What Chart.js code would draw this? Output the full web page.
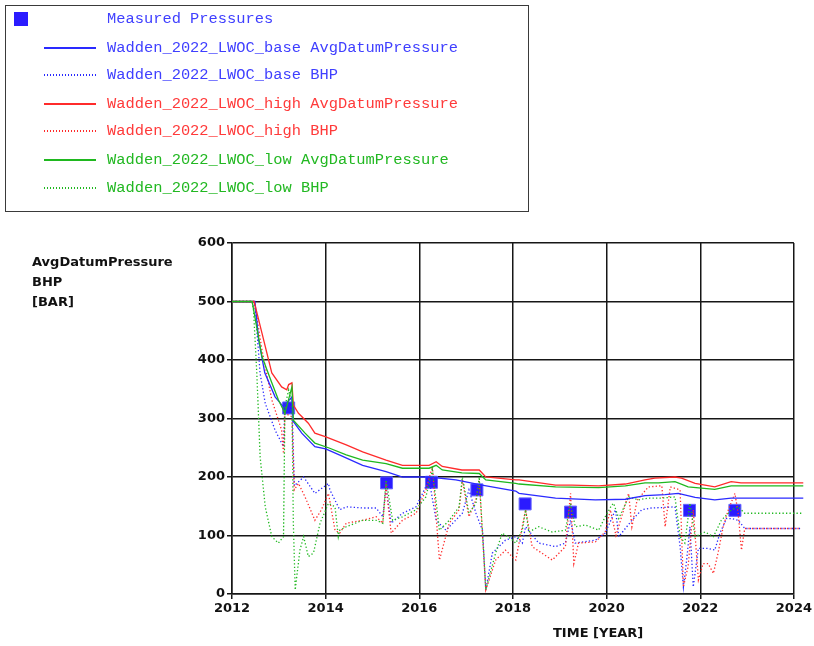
<!DOCTYPE html>
<html>
<head>
<meta charset="utf-8">
<script src="https://cdn.jsdelivr.net/npm/chart.js@4/dist/chart.umd.min.js"></script>
<style>
  html, body { margin:0; padding:0; background:#fff; }
  body { width:814px; height:646px; position:relative; overflow:hidden; }
  #wrap { position:absolute; left:0; top:0; width:814px; height:646px; }
  #legend { position:absolute; left:5px; top:5px; width:524px; height:207px; border:1px solid #3a3a3a; box-sizing:border-box; }
  .row { position:absolute; left:0; height:20px; width:520px; }
  .sw { position:absolute; }
  .lbl { position:absolute; left:101px; top:0; font-family:"Liberation Mono","DejaVu Sans Mono",monospace; font-size:15.4px; line-height:20px; white-space:pre; }
  .ytitle { position:absolute; left:32px; top:252px; font-family:"DejaVu Sans",sans-serif; font-weight:bold; font-size:13px; line-height:20px; color:#111; }
  .xtitle { position:absolute; left:553px; top:624px; font-family:"DejaVu Sans",sans-serif; font-weight:bold; font-size:13px; line-height:18px; color:#111; }
</style>
</head>
<body>
<div id="wrap"><canvas id="c" width="814" height="646"></canvas></div>
<div id="legend"></div>
<div class="ytitle">AvgDatumPressure<br>BHP<br>[BAR]</div>
<div class="xtitle">TIME [YEAR]</div>
<script>
// ---- Data ----
const xTickLabels = ["2012","2014","2016","2018","2020","2022","2024"];
const yTickLabels = ["0","100","200","300","400","500","600"];

const measuredYears  = [2013.21, 2015.30, 2016.26, 2017.23, 2018.26, 2019.23, 2021.77, 2022.74];
const measuredValues = [318, 190, 191, 178, 154, 140, 143, 143];

const baseAvgYears  = [2012.0, 2012.49, 2012.57, 2012.70, 2012.92, 2013.10, 2013.28, 2013.31, 2013.49, 2013.77, 2014.0, 2014.34, 2014.79, 2015.29, 2015.64, 2016.21, 2016.78, 2017.34, 2018.06, 2018.13, 2018.91, 2019.76, 2020.40, 2020.82, 2021.25, 2021.53, 2021.89, 2022.31, 2022.66, 2024.2];
const baseAvgValues = [500, 500, 434, 378, 337, 320, 337, 295, 275, 252, 248, 236, 220, 209, 200, 200, 195, 186, 176, 172, 164, 161, 162, 168, 170, 172, 165, 161, 164, 164];

const baseBhpYears  = [2012.0, 2012.45, 2012.50, 2012.60, 2012.71, 2012.92, 2013.10, 2013.13, 2013.28, 2013.33, 2013.53, 2013.77, 2014.06, 2014.09, 2014.27, 2014.30, 2014.44, 2014.79, 2015.08, 2015.22, 2015.29, 2015.40, 2015.64, 2015.93, 2016.21, 2016.36, 2016.57, 2016.92, 2017.06, 2017.21, 2017.35, 2017.42, 2017.56, 2017.84, 2018.06, 2018.20, 2018.27, 2018.55, 2018.91, 2019.12, 2019.23, 2019.33, 2019.76, 2019.97, 2020.19, 2020.26, 2020.54, 2020.75, 2020.96, 2021.25, 2021.46, 2021.57, 2021.64, 2021.71, 2021.78, 2021.85, 2021.96, 2022.17, 2022.31, 2022.42, 2022.56, 2022.67, 2022.81, 2022.95, 2024.15];
const baseBhpValues = [500, 500, 485, 377, 326, 280, 252, 325, 330, 185, 200, 172, 189, 178, 149, 144, 149, 147, 147, 132, 183, 121, 138, 149, 195, 126, 109, 138, 178, 138, 109, 7, 70, 92, 98, 87, 115, 87, 81, 87, 126, 87, 92, 104, 144, 98, 126, 144, 147, 148, 149, 81, 12, 58, 115, 12, 78, 78, 75, 104, 129, 129, 126, 112, 112];

const highAvgYears  = [2012.0, 2012.47, 2012.50, 2012.64, 2012.85, 2013.06, 2013.17, 2013.21, 2013.28, 2013.31, 2013.42, 2013.63, 2013.77, 2013.99, 2014.44, 2014.79, 2015.29, 2015.64, 2016.21, 2016.36, 2016.49, 2016.91, 2017.28, 2017.42, 2018.06, 2018.13, 2018.91, 2019.26, 2019.83, 2020.40, 2020.82, 2021.03, 2021.46, 2021.60, 2021.89, 2022.31, 2022.66, 2022.87, 2024.2];
const highAvgValues = [500, 500, 491, 446, 378, 354, 349, 358, 361, 323, 309, 292, 275, 269, 255, 243, 229, 220, 220, 226, 218, 212, 212, 200, 195, 195, 186, 186, 185, 188, 195, 198, 200, 198, 189, 183, 192, 190, 190];

const highBhpYears  = [2012.0, 2012.47, 2012.53, 2012.64, 2012.85, 2013.06, 2013.10, 2013.13, 2013.28, 2013.33, 2013.42, 2013.56, 2013.77, 2013.91, 2014.06, 2014.20, 2014.30, 2014.44, 2014.79, 2015.08, 2015.22, 2015.29, 2015.40, 2015.64, 2015.93, 2016.14, 2016.28, 2016.43, 2016.64, 2016.85, 2016.92, 2017.06, 2017.21, 2017.28, 2017.42, 2017.63, 2017.84, 2018.06, 2018.13, 2018.27, 2018.41, 2018.84, 2019.12, 2019.23, 2019.30, 2019.40, 2019.76, 2019.97, 2020.08, 2020.20, 2020.47, 2020.54, 2020.65, 2020.89, 2021.18, 2021.25, 2021.36, 2021.57, 2021.64, 2021.74, 2021.85, 2021.96, 2022.06, 2022.17, 2022.28, 2022.38, 2022.49, 2022.60, 2022.74, 2022.81, 2022.88, 2022.95, 2024.15];
const highBhpValues = [500, 500, 474, 417, 332, 280, 240, 309, 303, 178, 189, 166, 126, 144, 172, 109, 104, 121, 126, 132, 121, 183, 104, 126, 138, 178, 218, 58, 121, 144, 195, 132, 161, 195, 7, 58, 75, 58, 87, 144, 81, 58, 81, 172, 52, 87, 89, 106, 144, 100, 172, 115, 160, 183, 185, 115, 183, 178, 12, 47, 144, 24, 52, 52, 35, 70, 115, 144, 172, 138, 75, 112, 112];

const lowAvgYears  = [2012.0, 2012.43, 2012.64, 2012.85, 2012.99, 2013.13, 2013.28, 2013.31, 2013.56, 2013.77, 2014.06, 2014.44, 2014.79, 2015.29, 2015.64, 2016.21, 2016.36, 2016.49, 2016.91, 2017.28, 2017.42, 2018.06, 2018.13, 2018.91, 2019.83, 2020.40, 2020.82, 2021.11, 2021.46, 2021.74, 2022.31, 2022.66, 2024.2];
const lowAvgValues = [500, 500, 406, 361, 332, 309, 354, 297, 275, 258, 250, 238, 229, 223, 215, 215, 220, 212, 207, 206, 195, 189, 188, 183, 182, 185, 190, 190, 192, 183, 179, 185, 185];

const lowBhpYears  = [2012.0, 2012.43, 2012.46, 2012.53, 2012.60, 2012.71, 2012.85, 2012.99, 2013.10, 2013.13, 2013.21, 2013.28, 2013.31, 2013.35, 2013.45, 2013.53, 2013.63, 2013.74, 2013.88, 2014.06, 2014.20, 2014.27, 2014.30, 2014.44, 2014.79, 2015.08, 2015.22, 2015.29, 2015.43, 2015.64, 2015.93, 2016.14, 2016.28, 2016.43, 2016.64, 2016.85, 2016.92, 2017.06, 2017.21, 2017.28, 2017.42, 2017.63, 2017.77, 2017.95, 2018.06, 2018.20, 2018.27, 2018.34, 2018.55, 2018.84, 2019.12, 2019.23, 2019.33, 2019.55, 2019.83, 2019.97, 2020.11, 2020.15, 2020.26, 2020.47, 2020.68, 2020.89, 2021.18, 2021.46, 2021.57, 2021.67, 2021.78, 2021.89, 2022.10, 2022.28, 2022.45, 2022.67, 2022.81, 2022.95, 2024.2];
const lowBhpValues = [500, 500, 485, 377, 235, 149, 98, 87, 98, 320, 349, 326, 121, 7, 75, 98, 64, 70, 121, 155, 149, 98, 109, 115, 126, 126, 121, 195, 126, 132, 144, 166, 212, 109, 126, 149, 200, 138, 155, 200, 7, 70, 104, 95, 87, 109, 144, 106, 115, 106, 109, 155, 115, 118, 109, 132, 152, 155, 129, 166, 161, 164, 164, 166, 98, 87, 155, 98, 106, 98, 126, 144, 149, 138, 138];

// ---- Styling ----
const BLUE = '#2a2aff', RED = '#ff2b2b', GREEN = '#1fb81f';
const BLUE_T = '#3f3fff', RED_T = '#ff3a3a', GREEN_T = '#22b822';

function pts(xs, ys) { return xs.map((x, i) => ({ x: x, y: ys[i] })); }

const tickFont = { family: 'DejaVu Sans', weight: 'bold', size: 13 };

const datasets = [
  { label: 'Measured Pressures', data: pts(measuredYears, measuredValues), showLine: false,
    pointStyle: 'rect', pointRadius: 8.5, pointHoverRadius: 8.5, backgroundColor: '#2b1bff', borderColor: '#6464ff', borderWidth: 1,
    order: 10, legendText: BLUE_T, kind: 'square' },
  { label: 'Wadden_2022_LWOC_base AvgDatumPressure', data: pts(baseAvgYears, baseAvgValues), borderColor: BLUE, borderWidth: 1.3, legendText: BLUE_T, kind: 'solid', order: 3 },
  { label: 'Wadden_2022_LWOC_base BHP', data: pts(baseBhpYears, baseBhpValues), borderColor: BLUE, borderWidth: 1.3, borderDash: [1.3, 2.2], legendText: BLUE_T, kind: 'dot', order: 6 },
  { label: 'Wadden_2022_LWOC_high AvgDatumPressure', data: pts(highAvgYears, highAvgValues), borderColor: RED, borderWidth: 1.3, legendText: RED_T, kind: 'solid', order: 2 },
  { label: 'Wadden_2022_LWOC_high BHP', data: pts(highBhpYears, highBhpValues), borderColor: RED, borderWidth: 1.3, borderDash: [1.3, 2.2], legendText: RED_T, kind: 'dot', order: 5 },
  { label: 'Wadden_2022_LWOC_low AvgDatumPressure', data: pts(lowAvgYears, lowAvgValues), borderColor: GREEN, borderWidth: 1.3, legendText: GREEN_T, kind: 'solid', order: 1 },
  { label: 'Wadden_2022_LWOC_low BHP', data: pts(lowBhpYears, lowBhpValues), borderColor: GREEN, borderWidth: 1.3, borderDash: [1.3, 2.2], legendText: GREEN_T, kind: 'dot', order: 4 }
];
datasets.forEach(d => {
  d.clip = false; d.tension = 0; d.fill = false;
  if (d.kind !== 'square') { d.pointRadius = 0; d.pointHoverRadius = 0; }
});

const chart = new Chart(document.getElementById('c'), {
  type: 'line',
  data: { datasets: datasets },
  options: {
    responsive: false,
    animation: false,
    events: [],
    layout: { padding: { left: 0, top: 243, right: 18, bottom: 0 } },
    plugins: { legend: { display: false }, tooltip: { enabled: false }, title: { display: false } },
    scales: {
      x: {
        type: 'linear', min: 2012, max: 2024,
        afterFit: (s) => { s.height = 52; },
        afterBuildTicks: (s) => { s.ticks = xTickLabels.map(v => ({ value: Number(v) })); },
        ticks: { font: tickFont, color: '#111', padding: 2, maxRotation: 0, autoSkip: false,
                 callback: (v) => String(v) },
        grid: { color: '#161616', lineWidth: 1.5, tickLength: 5, drawTicks: true },
        border: { color: '#161616', width: 1.5 }
      },
      y: {
        type: 'linear', min: 0, max: 600,
        afterFit: (s) => { s.width = 232; },
        afterBuildTicks: (s) => { s.ticks = yTickLabels.map(v => ({ value: Number(v) })); },
        ticks: { font: tickFont, color: '#111', padding: 2, callback: (v) => String(v) },
        grid: { color: '#161616', lineWidth: 1.5, tickLength: 5, drawTicks: true },
        border: { color: '#161616', width: 1.5 }
      }
    }
  }
});

// ---- HTML legend generated from the chart's datasets ----
const legend = document.getElementById('legend');
const rowTops = [3, 32, 59, 88, 115, 144, 172];
chart.data.datasets.forEach((ds, i) => {
  const row = document.createElement('div');
  row.className = 'row';
  row.style.top = rowTops[i] + 'px';
  const sw = document.createElement('div');
  sw.className = 'sw';
  if (ds.kind === 'square') {
    Object.assign(sw.style, { left: '8px', top: '3px', width: '14px', height: '14px', background: '#2b1bff' });
  } else if (ds.kind === 'solid') {
    Object.assign(sw.style, { left: '38px', top: '9px', width: '52px', height: '1.5px', background: ds.borderColor });
  } else {
    Object.assign(sw.style, { left: '38px', top: '9px', width: '52px', height: '1.5px',
      backgroundImage: 'repeating-linear-gradient(to right, ' + ds.borderColor + ' 0px, ' + ds.borderColor + ' 1px, transparent 1px, transparent 3px)' });
  }
  const lb = document.createElement('div');
  lb.className = 'lbl';
  lb.style.color = ds.legendText;
  lb.textContent = ds.label;
  row.appendChild(sw); row.appendChild(lb);
  legend.appendChild(row);
});
</script>
</body>
</html>
